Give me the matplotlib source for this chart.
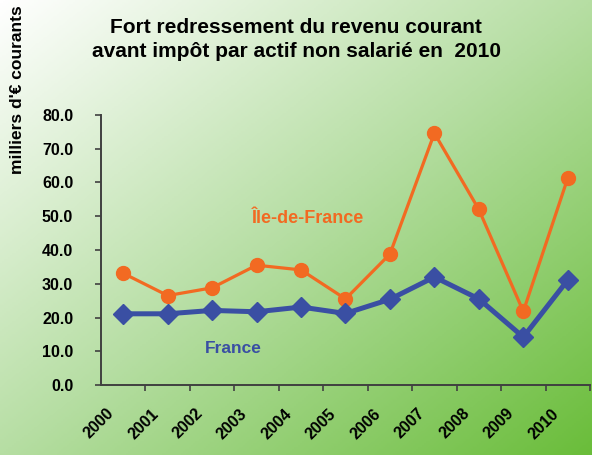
import numpy as np
import matplotlib
matplotlib.use("Agg")
import matplotlib.pyplot as plt
from matplotlib.colors import LinearSegmentedColormap

plt.rcParams['font.family'] = ['Liberation Sans', 'DejaVu Sans']
plt.rcParams['font.weight'] = 'bold'

years = ["2000", "2001", "2002", "2003", "2004", "2005", "2006", "2007", "2008", "2009", "2010"]
idf = [33.1, 26.5, 28.8, 35.5, 34.1, 25.5, 38.8, 74.6, 52.0, 21.8, 61.3]
france = [21.1, 21.1, 22.1, 21.7, 23.1, 21.2, 25.4, 32.0, 25.5, 14.2, 31.1]

orange = "#f26a22"
blue = "#3a4fa3"

fig = plt.figure(figsize=(5.92, 4.55), dpi=100)

# diagonal gradient background: white top-left -> green bottom-right
bg = fig.add_axes([0, 0, 1, 1], zorder=-10)
xx, yy = np.meshgrid(np.linspace(0, 1, 300), np.linspace(0, 1, 230))
t = (xx + yy) / 2
cmap = LinearSegmentedColormap.from_list("bg", ["#ffffff", "#b6dea3", "#6abd3a"])
bg.imshow(t, cmap=cmap, aspect="auto", extent=[0, 1, 0, 1], origin="upper")
bg.axis("off")

ax = fig.add_axes([0.1706, 0.1538, 0.826, 0.5935])
ax.set_facecolor("none")

x = np.arange(len(years))
ax.plot(x, idf, color=orange, lw=2.3, marker="o", ms=10, zorder=3)
ax.plot(x, france, color=blue, lw=3.6, marker="D", ms=10, zorder=4)

ax.set_xlim(-0.5, 10.5)
ax.set_ylim(0, 80)
ax.set_yticks(np.arange(0, 81, 10))
ax.set_yticklabels([f"{v:.1f}" for v in np.arange(0, 81, 10)], fontsize=11.5, fontweight="bold")
ax.set_xticks(x + 0.5, minor=False)
ax.set_xticklabels([])
# year labels sit a bit left of the points
ax.set_xticks(x - 0.38, minor=True)
ax.set_xticklabels(years, minor=True, rotation=45, ha="right", rotation_mode="anchor",
                   fontsize=11.5, fontweight="bold")
ax.tick_params(axis="x", which="minor", length=0, pad=15)
ax.tick_params(axis="x", which="major", length=4, width=1.2, color="#404040", direction="out")
ax.tick_params(axis="y", length=4, width=1.2, color="#404040", direction="out", pad=16)

for s in ["top", "right"]:
    ax.spines[s].set_visible(False)
for s in ["left", "bottom"]:
    ax.spines[s].set_color("#404040")
    ax.spines[s].set_linewidth(1.4)

ax.text(4.16, 49.2, "Île-de-France", color=orange, fontsize=13, fontweight="bold",
        ha="center", va="center")
ax.text(2.47, 10.7, "France", color=blue, fontsize=12.5, fontweight="bold",
        ha="center", va="center")

fig.text(0.5, 0.913, "Fort redressement du revenu courant\navant impôt par actif non salarié en  2010",
         ha="center", va="center", fontsize=15, fontweight="bold", linespacing=1.3)
fig.text(0.03, 0.803, "milliers d'€ courants", rotation=90, ha="center", va="center",
         fontsize=12.5, fontweight="bold")

fig.savefig("out.png", dpi=100)
